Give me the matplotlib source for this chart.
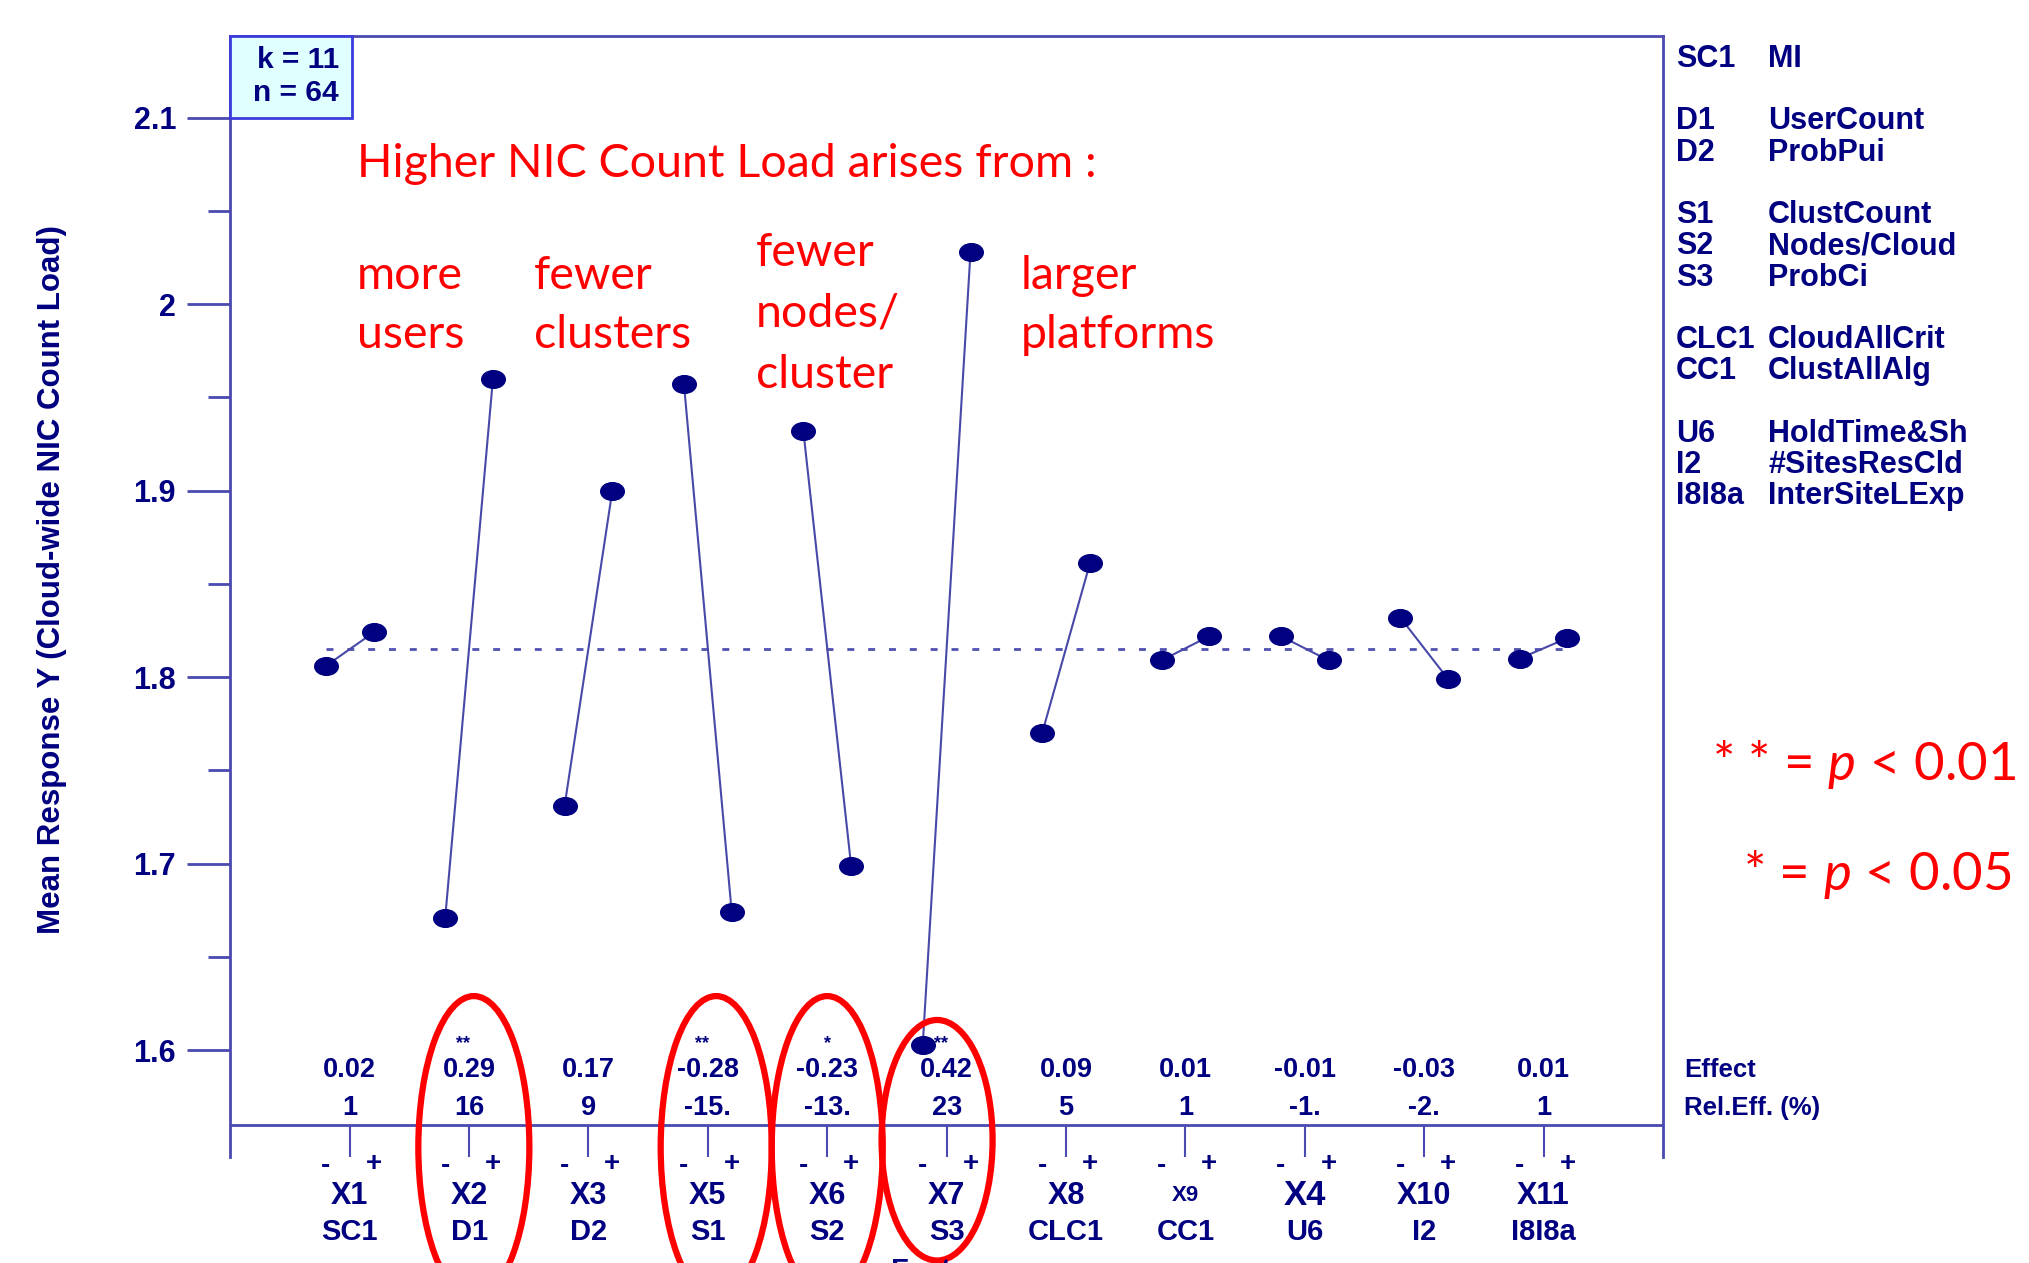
import numpy as np
import matplotlib
matplotlib.use("Agg")
from matplotlib import pyplot as plt
from matplotlib.path import Path
from matplotlib.patches import Ellipse, Rectangle

plt.rcParams['font.family'] = ['Liberation Sans', 'DejaVu Sans']
plt.rcParams['mathtext.fontset'] = 'custom'
plt.rcParams['mathtext.rm'] = 'Lato'
plt.rcParams['mathtext.it'] = 'Lato:italic'

# factor order along the x axis
factors = ['X1', 'X2', 'X3', 'X5', 'X6', 'X7', 'X8', 'X9', 'X4', 'X10', 'X11']
codes = ['SC1', 'D1', 'D2', 'S1', 'S2', 'S3', 'CLC1', 'CC1', 'U6', 'I2', 'I8I8a']
# mean response at low (-) and high (+) level
y_minus = [1.806, 1.671, 1.731, 1.957, 1.932, 1.603, 1.770, 1.809, 1.822, 1.832, 1.810]
y_plus = [1.824, 1.960, 1.900, 1.674, 1.699, 2.028, 1.861, 1.822, 1.809, 1.799, 1.821]
effects = ['0.02', '0.29', '0.17', '-0.28', '-0.23', '0.42', '0.09', '0.01', '-0.01', '-0.03', '0.01']
rel_eff = ['1', '16', '9', '-15.', '-13.', '23', '5', '1', '-1.', '-2.', '1']
signif = ['', '**', '', '**', '*', '**', '', '', '', '', '']
grand_mean = 1.815

legend_codes = ['SC1', 'D1', 'D2', 'S1', 'S2', 'S3', 'CLC1', 'CC1', 'U6', 'I2', 'I8I8a']
legend_names = ['MI', 'UserCount', 'ProbPui', 'ClustCount', 'Nodes/Cloud', 'ProbCi',
                'CloudAllCrit', 'ClustAllAlg', 'HoldTime&Sh', '#SitesResCld', 'InterSiteLExp']
legend_rows = [0, 2, 3, 5, 6, 7, 9, 10, 12, 13, 14]

navy = '#000080'
frame = '#4a4ab0'
red = '#ff0000'

fig = plt.figure(figsize=(20.29, 12.63), dpi=100)
ax = fig.add_axes([0.1135, 0.0839, 0.7061, 0.8874])
ax.set_xlim(0, 12)
ax.set_ylim(1.5427, 2.1437)
for s in ['left', 'right', 'top']:
    ax.spines[s].set_color(frame)
    ax.spines[s].set_linewidth(2)
ax.spines['bottom'].set_visible(False)

# y ticks
ax.set_yticks([1.6, 1.7, 1.8, 1.9, 2.0, 2.1])
ax.set_yticklabels(['1.6', '1.7', '1.8', '1.9', '2', '2.1'])
ax.set_yticks(np.arange(1.65, 2.1, 0.1), minor=True)
ax.tick_params(axis='y', which='major', length=31, width=2, color=frame,
               labelsize=22, labelcolor=navy, pad=8)
ax.tick_params(axis='y', which='minor', length=16, width=2, color=frame)
for t in ax.get_yticklabels():
    t.set_fontweight('bold')
ax.set_xticks([])
ax.set_ylabel('Mean Response Y (Cloud-wide NIC Count Load)', fontsize=22.5,
              fontweight='bold', color=navy)
ax.yaxis.set_label_coords(-0.1138, 0.515)

# x axis line and hanging factor ticks
ax.axhline(1.560, color=frame, lw=2)
xpos = np.arange(1, len(factors) + 1)
ax.vlines(xpos, 1.5427, 1.560, color=frame, lw=1.5)

# grand mean
ax.plot([xpos[0] - 0.2, xpos[-1] + 0.2], [grand_mean, grand_mean], color='#5050b0',
        lw=2, dashes=(2.5, 5))

# elliptical marker
circ = Path.unit_circle()
ell = Path(circ.vertices * np.array([1.0, 0.75]), circ.codes)

for i, x in enumerate(xpos):
    ax.plot([x - 0.2, x + 0.2], [y_minus[i], y_plus[i]], color='#4848a8', lw=1.5, zorder=2)
    ax.plot([x - 0.2, x + 0.2], [y_minus[i], y_plus[i]], ls='none', marker=ell,
            ms=17, color=navy, zorder=3)
    ax.text(x, 1.5895, effects[i], ha='center', va='center', fontsize=19.5,
            fontweight='bold', color=navy)
    ax.text(x, 1.5692, rel_eff[i], ha='center', va='center', fontsize=19.5,
            fontweight='bold', color=navy)
    if signif[i]:
        ax.text(x - 0.05 if signif[i] == '**' else x, 1.6035, signif[i], ha='center',
                va='center', fontsize=13, fontweight='bold', color=navy)

ax.text(12.18, 1.5895, 'Effect', ha='left', va='center', fontsize=18.5,
        fontweight='bold', color=navy, clip_on=False)
ax.text(12.18, 1.5692, 'Rel.Eff. (%)', ha='left', va='center', fontsize=18.5,
        fontweight='bold', color=navy, clip_on=False)

# labels under the axis
lab_sizes = [22] * len(factors)
lab_sizes[7] = 16
lab_sizes[8] = 25
for i, x in enumerate(xpos):
    ax.text(x - 0.2, 1.5380, '-', ha='center', va='center', fontsize=20,
            fontweight='bold', color=navy, clip_on=False)
    ax.text(x + 0.2, 1.5390, '+', ha='center', va='center', fontsize=20,
            fontweight='bold', color=navy, clip_on=False)
    ax.text(x, 1.5220, factors[i], ha='center', va='center', fontsize=lab_sizes[i],
            fontweight='bold', color=navy, clip_on=False)
    ax.text(x, 1.5025, codes[i], ha='center', va='center', fontsize=21,
            fontweight='bold', color=navy, clip_on=False)

fig.text(0.465, 1 - 1257 / 1263, 'Factors', ha='center', va='top', fontsize=21,
         fontweight='bold', color=navy)

# k / n box
ax.add_patch(Rectangle((0, 2.1), 1.02, 0.0437, facecolor='#e0ffff', edgecolor='#3c3cdc',
                       lw=2, zorder=4, clip_on=False))
ax.text(0.91, 2.1310, 'k = 11', ha='right', va='center', fontsize=21.5, fontweight='bold',
        color=navy, zorder=5)
ax.text(0.91, 2.1130, 'n = 64', ha='right', va='center', fontsize=21.5, fontweight='bold',
        color=navy, zorder=5)

# red annotations
ann = dict(color=red, fontsize=33.5, family='Lato', ha='left', va='center')
ax.text(1.06, 2.0750, 'Higher NIC Count Load arises from :', **ann)
ax.text(1.06, 2.0152, 'more', **ann)
ax.text(1.06, 1.9833, 'users', **ann)
ax.text(2.54, 2.0152, 'fewer', **ann)
ax.text(2.54, 1.9833, 'clusters', **ann)
ax.text(4.40, 2.0277, 'fewer', **ann)
ax.text(4.40, 1.9951, 'nodes/', **ann)
ax.text(4.40, 1.9618, 'cluster', **ann)
ax.text(6.62, 2.0152, 'larger', **ann)
ax.text(6.62, 1.9833, 'platforms', **ann)

ax.text(14.96, 1.7530, r'* * = $p$ < 0.01', color=red, fontsize=38, family='Lato',
        ha='right', va='center', clip_on=False)
ax.text(14.92, 1.6942, r'* = $p$ < 0.05', color=red, fontsize=38, family='Lato',
        ha='right', va='center', clip_on=False)

# significant factors circled
rings = [(2.04, 1.548, 0.162), (4.07, 1.548, 0.162), (5.0, 1.548, 0.162), (5.92, 1.5517, 0.129)]
for cx, cy, h in rings:
    ax.add_patch(Ellipse((cx, cy), 0.93, h, fill=False, edgecolor=red, lw=4.5,
                         clip_on=False, zorder=6))

# factor legend on the right
for r, c, n in zip(legend_rows, legend_codes, legend_names):
    yy = 2.1315 - r * 0.01675
    ax.text(12.11, yy, c, ha='left', va='center', fontsize=22, fontweight='bold',
            color=navy, clip_on=False)
    ax.text(12.88, yy, n, ha='left', va='center', fontsize=22, fontweight='bold',
            color=navy, clip_on=False)

fig.savefig('out.png', dpi=100)
